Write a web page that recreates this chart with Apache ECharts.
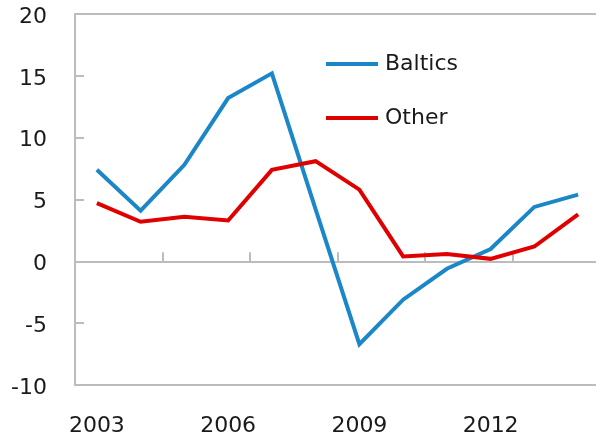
<!DOCTYPE html>
<html>
<head>
<meta charset="utf-8">
<script src="https://cdn.jsdelivr.net/npm/echarts@6/dist/echarts.min.js"></script>
<style>
  html, body { margin: 0; padding: 0; background: #ffffff; }
  #chart { width: 596px; height: 432px; }
</style>
</head>
<body>
<div id="chart"></div>
<script>
// Annual growth, per cent
const years = ['2003', '2004', '2005', '2006', '2007', '2008', '2009', '2010', '2011', '2012', '2013', '2014'];
const baltics = [7.4, 4.1, 7.8, 13.2, 15.2, 4.2, -6.7, -3.1, -0.6, 1.0, 4.4, 5.4];
const other = [4.7, 3.2, 3.6, 3.3, 7.4, 8.1, 5.8, 0.4, 0.6, 0.2, 1.2, 3.8];
const yTicks = { min: -10, max: 20, step: 5 };

const axisGrey = '#bcbcbc';
const textColor = '#1a1a1a';
const fontFamily = '"DejaVu Sans", Verdana, sans-serif';

const chart = echarts.init(document.getElementById('chart'), null, { renderer: 'canvas' });

chart.setOption({
  animation: false,
  backgroundColor: '#ffffff',
  textStyle: { fontFamily: fontFamily, color: textColor },
  grid: {
    left: 75,
    top: 14,
    width: 525,
    height: 371,
    containLabel: false,
    outerBoundsMode: 'none',
    show: true,
    borderColor: axisGrey,
    borderWidth: 2,
    backgroundColor: 'transparent'
  },
  legend: {
    orient: 'vertical',
    left: 326,
    top: 52,
    padding: 0,
    icon: 'rect',
    itemWidth: 52,
    itemHeight: 4,
    itemGap: 30,
    textStyle: { fontSize: 22, color: textColor, fontFamily: fontFamily, lineHeight: 24, padding: [0, 0, 0, 2] },
    data: ['Baltics', 'Other']
  },
  xAxis: [
    {
      // axis line through zero with the year ticks
      type: 'category',
      data: years,
      boundaryGap: true,
      position: 'bottom',
      axisLine: { show: true, onZero: true, lineStyle: { color: axisGrey, width: 2 } },
      axisTick: { show: true, inside: true, length: 9, interval: 1, lineStyle: { color: axisGrey, width: 2 } },
      axisLabel: { show: false },
      splitLine: { show: false }
    },
    {
      // year labels along the bottom edge
      type: 'category',
      data: years,
      boundaryGap: true,
      position: 'bottom',
      axisLine: { show: false, onZero: false },
      axisTick: { show: false },
      axisLabel: { show: true, interval: 2, margin: 30, fontSize: 22, color: textColor, fontFamily: fontFamily },
      splitLine: { show: false }
    }
  ],
  yAxis: {
    type: 'value',
    min: yTicks.min,
    max: yTicks.max,
    interval: yTicks.step,
    axisLine: { show: true, lineStyle: { color: axisGrey, width: 2 } },
    axisTick: { show: true, inside: true, length: 9, lineStyle: { color: axisGrey, width: 2 } },
    axisLabel: {
      margin: 28, fontSize: 22, color: textColor, fontFamily: fontFamily,
      verticalAlign: 'top', lineHeight: 6
    },
    splitLine: { show: false }
  },
  series: [
    {
      name: 'Baltics',
      type: 'line',
      xAxisIndex: 0,
      data: baltics,
      symbol: 'none',
      lineStyle: { color: '#1b87c8', width: 4, join: 'miter' },
      itemStyle: { color: '#1b87c8' }
    },
    {
      name: 'Other',
      type: 'line',
      xAxisIndex: 0,
      data: other,
      symbol: 'none',
      lineStyle: { color: '#e00000', width: 4, join: 'miter' },
      itemStyle: { color: '#e00000' }
    }
  ]
});
</script>
</body>
</html>
